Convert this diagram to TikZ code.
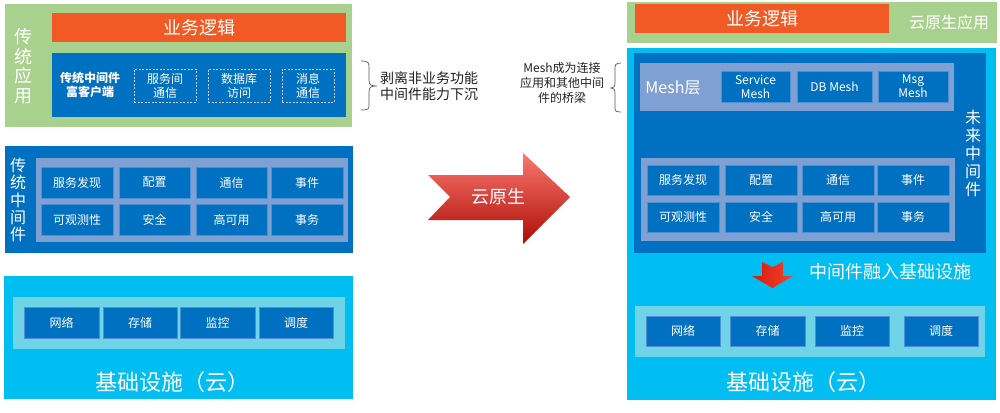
\documentclass[tikz,border=0pt]{standalone}
\usepackage{fontspec}
\setmainfont{Noto Sans CJK SC}
\definecolor{cgreen}{HTML}{A9D18E}
\definecolor{corange}{HTML}{F15A24}
\definecolor{cblue}{HTML}{0070C0}
\definecolor{cgrid}{HTML}{7FA0D2}
\definecolor{ccyan}{HTML}{00BEF2}
\definecolor{cinfra}{HTML}{70D4E8}
\definecolor{ccellb}{HTML}{4F8FD6}
\definecolor{cdash}{HTML}{C0D0E8}
\definecolor{cbrace}{HTML}{555555}
\definecolor{ctext}{HTML}{222222}
\definecolor{rtop}{HTML}{F97A70}
\definecolor{rmid}{HTML}{EB1E14}
\definecolor{rbot}{HTML}{AF0A05}
\definecolor{rl}{HTML}{D81A0C}
\definecolor{rr}{HTML}{F2452E}
\newcommand\bx[7]{\node[#1, minimum width={(#5-#3)*1pt}, minimum height={(#6-#4)*1pt}] (#2) at ({(#3+#5)/2},{(#4+#6)/2}) {#7};}
\tikzset{
  base/.style={inner sep=0pt, outer sep=0pt, text=white, align=center, draw=none},
  greenbox/.style={base, fill=cgreen},
  orangebox/.style={base, fill=corange, font=\fontsize{18}{20}\selectfont},
  dbluebox/.style={base, fill=cblue},
  gridbox/.style={base, fill=cgrid},
  cellbox/.style={base, fill=cblue, draw=ccellb, line width=0.6pt, font=\fontsize{12}{14}\selectfont},
  dashbox/.style={base, fill=cblue, draw=cdash, dash pattern=on 2pt off 1.5pt, line width=0.6pt, font=\fontsize{12}{14}\selectfont},
  cyanbox/.style={base, fill=ccyan},
  infrabox/.style={base, fill=cinfra},
  vtext/.style={text=white, align=center, inner sep=0pt},
  bigtext/.style={text=white, inner sep=0pt, font=\fontsize{22}{24}\selectfont},
  bracepath/.style={draw=cbrace, line width=0.7pt},
  note/.style={text=ctext, inner sep=0pt},
}
\begin{document}
\begin{tikzpicture}[x=1pt,y=-1pt]
\useasboundingbox[fill=white] (0,0) rectangle (1000,412);
% ---------- left: traditional application
\bx{greenbox}{lapp}{5}{4}{352}{127}{}
\bx{orangebox}{lbiz}{52}{13}{346}{42}{业务逻辑}
\node[vtext, font=\fontsize{18}{19.5}\selectfont] (lapptxt) at (23,66) {传\\统\\应\\用};
\bx{dbluebox}{lrich}{52}{53}{346}{117}{}
\node[vtext, font=\bfseries\fontsize{12}{14}\selectfont] (lrichtxt) at (90,85) {传统中间件\\富客户端};
\bx{dashbox}{ld1}{134}{69}{196}{102}{服务间\\通信}
\bx{dashbox}{ld2}{208}{69}{270}{102}{数据库\\访问}
\bx{dashbox}{ld3}{282}{69}{334}{102}{消息\\通信}
% ---------- left: traditional middleware
\bx{dbluebox}{lmid}{5}{146}{353}{253}{}
\bx{gridbox}{lgrid}{36}{158}{348}{242}{}
\node[vtext, font=\fontsize{16}{17.3}\selectfont] (lmidtxt) at (18,200) {传\\统\\中\\间\\件};
\bx{cellbox}{la1}{41}{167}{113}{198}{服务发现}
\bx{cellbox}{la2}{119}{167}{190}{198}{配置}
\bx{cellbox}{la3}{196}{167}{267}{198}{通信}
\bx{cellbox}{la4}{271}{167}{343}{198}{事件}
\bx{cellbox}{lb1}{41}{204}{113}{235}{可观测性}
\bx{cellbox}{lb2}{119}{204}{190}{235}{安全}
\bx{cellbox}{lb3}{196}{204}{267}{235}{高可用}
\bx{cellbox}{lb4}{271}{204}{343}{235}{事务}
% ---------- left: infrastructure
\bx{cyanbox}{linf}{4}{276}{353}{399}{}
\bx{infrabox}{linfin}{13}{297}{345}{349}{}
\bx{cellbox}{li1}{24}{307}{99}{338}{网络}
\bx{cellbox}{li2}{103}{307}{177}{338}{存储}
\bx{cellbox}{li3}{180}{307}{255}{338}{监控}
\bx{cellbox}{li4}{259}{307}{333}{338}{调度}
\node[bigtext] (linftxt) at (172,382) {基础设施（云）};
% ---------- middle
\draw[bracepath] (361,61) .. controls (369,61) and (369,63) .. (369,68) -- (369,80)
  .. controls (369,85) and (371,86) .. (377,86) .. controls (371,86) and (369,87) .. (369,92)
  -- (369,104) .. controls (369,109) and (369,110) .. (361,110);
\node[note, anchor=west, align=left, font=\fontsize{14}{16}\selectfont] (note1) at (380,86) {剥离非业务功能\\中间件能力下沉};
\node[note, align=center, font=\fontsize{12}{15}\selectfont] (note2) at (562,83) {Mesh成为连接\\应用和其他中间\\件的桥梁};
\draw[bracepath] (621,63) .. controls (615,63) and (615,65) .. (615,70) -- (615,82)
  .. controls (615,87) and (614,88) .. (611,88) .. controls (614,88) and (615,89) .. (615,94)
  -- (615,106) .. controls (615,111) and (615,112) .. (621,112);
\shade[top color=rtop, middle color=rmid, bottom color=rbot]
  (428,175) -- (523,175) -- (523,153) -- (570,197) -- (523,244) -- (523,220) -- (428,220) -- (450,197) -- cycle;
\node[text=white, inner sep=0pt, font=\fontsize{18}{20}\selectfont] (cloudnative) at (498,197) {云原生};
% ---------- right: cloud native application
\bx{greenbox}{rapp}{627}{2}{997}{43}{}
\bx{orangebox}{rbiz}{635}{4}{889}{33}{业务逻辑}
\node[text=white, inner sep=0pt, font=\fontsize{16}{18}\selectfont] (rapptxt) at (949,22) {云原生应用};
% ---------- right: future middleware
\bx{cyanbox}{rinf}{627}{48}{996}{400}{}
\bx{dbluebox}{rmid}{634}{53}{986}{253}{}
\bx{gridbox}{rmesh}{640}{63}{954}{111}{}
\node[text=white, inner sep=0pt, font=\fontsize{16}{18}\selectfont] (rmeshtxt) at (673,88) {Mesh层};
\bx{cellbox}{rm1}{721}{71}{790}{102}{Service\\Mesh}
\bx{cellbox}{rm2}{797}{71}{872}{102}{DB Mesh}
\bx{cellbox}{rm3}{878}{71}{948}{102}{Msg\\Mesh}
\node[vtext, font=\fontsize{16}{18}\selectfont] (rmidtxt) at (973,153) {未\\来\\中\\间\\件};
\bx{gridbox}{rgrid}{641}{158}{955}{241}{}
\bx{cellbox}{ra1}{647}{165}{719}{195}{服务发现}
\bx{cellbox}{ra2}{725}{165}{797}{195}{配置}
\bx{cellbox}{ra3}{802}{165}{874}{195}{通信}
\bx{cellbox}{ra4}{877}{165}{949}{195}{事件}
\bx{cellbox}{rb1}{647}{202}{719}{232}{可观测性}
\bx{cellbox}{rb2}{725}{202}{797}{232}{安全}
\bx{cellbox}{rb3}{802}{202}{874}{232}{高可用}
\bx{cellbox}{rb4}{877}{202}{949}{232}{事务}
\shade[left color=rl, right color=rr]
  (762,262) -- (772.5,267) -- (783,262) -- (783,276) -- (793,276) -- (772.5,288) -- (752,276) -- (762,276) -- cycle;
\node[text=white, inner sep=0pt, font=\fontsize{18}{20}\selectfont] (sinktxt) at (890,272) {中间件融入基础设施};
% ---------- right: infrastructure
\bx{infrabox}{rinfin}{635}{306}{985}{357}{}
\bx{cellbox}{ri1}{646}{316}{720}{346}{网络}
\bx{cellbox}{ri2}{730}{316}{805}{346}{存储}
\bx{cellbox}{ri3}{815}{316}{889}{346}{监控}
\bx{cellbox}{ri4}{904}{316}{978}{346}{调度}
\node[bigtext] (rinftxt) at (803,382) {基础设施（云）};
\end{tikzpicture}
\end{document}
